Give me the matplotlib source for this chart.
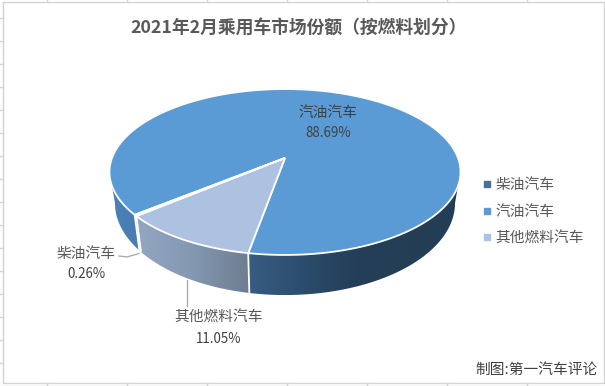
import numpy as np
import matplotlib
matplotlib.use("Agg")
import matplotlib.pyplot as plt
from matplotlib.colors import LinearSegmentedColormap
from matplotlib.lines import Line2D
from matplotlib.patches import Polygon

plt.rcParams['font.family'] = ['Noto Sans CJK SC', 'DejaVu Sans']

# data
categories = ["柴油汽车", "汽油汽车", "其他燃料汽车"]
shares = [0.26, 88.69, 11.05]
share_labels = ["0.26%", "88.69%", "11.05%"]
colors = ["#44729F", "#5B9BD5", "#ADC2E1"]
title = "2021年2月乘用车市场份额（按燃料划分）"
credit = "制图:第一汽车评论"

start_angle = 220.0
k = 0.1687
edge = 'white'


def project(theta, cy, a, b, cx=285.0):
    # circle seen in perspective, centre stays at (cx, cy)
    t = np.radians(theta)
    d = 1 + k * np.sin(t)
    return cx + a * np.cos(t) / d, cy - b * np.sin(t) / d


def top_pt(theta):
    return project(theta, 158.0, 173.0, 80.6)


def bottom_pt(theta):
    return project(theta, 187.5, 167.6, 89.4)


def wall(ax, t0, t1, stops):
    th = np.linspace(t0, t1, 150)
    xt, yt = top_pt(th)
    xb, yb = bottom_pt(th)
    xs = np.r_[xt, xb[::-1]]
    ys = np.r_[yt, yb[::-1]]
    poly = Polygon(np.c_[xs, ys], closed=True, fc='none', ec='none', transform=ax.transData)
    ax.add_patch(poly)
    cmap = LinearSegmentedColormap.from_list("w", stops)
    x0, x1 = xs.min(), xs.max()
    im = ax.imshow(np.linspace(0, 1, 256).reshape(1, -1), cmap=cmap, aspect='auto',
                   extent=(x0, x1, ys.max(), ys.min()), zorder=2, interpolation='bilinear')
    im.set_clip_path(poly)


def seam(ax, th):
    xt, yt = top_pt(th)
    xb, yb = bottom_pt(th)
    ax.plot([xt, xb], [yt, yb], color=edge, lw=1.3, zorder=3, solid_capstyle='butt')


fig = plt.figure(figsize=(6.05, 3.86), dpi=100)
ax = fig.add_axes([0, 0, 1, 1])

# angles run clockwise from the start angle
ends = start_angle - 3.6 * np.cumsum(shares)
starts = np.r_[start_angle, ends[:-1]]

left_limit = 180 + np.degrees(np.arcsin(k))
right_limit = 360 - np.degrees(np.arcsin(k))
a_diesel = starts[1]          # diesel / petrol boundary
a_other = starts[0]           # diesel / other boundary
a_front = starts[2] + 360     # other / petrol boundary, front of the pie

# side walls
wall(ax, left_limit, a_diesel, ["#4A80B5", "#4A7FB3", "#4A7DAE"])
wall(ax, a_diesel, a_other, ["#4778A8", "#4778A8"])
wall(ax, a_other, a_front, ["#93A7C2", "#8498B2", "#6E7D90"])
wall(ax, a_front, right_limit, ["#375D83", "#2C4D6E", "#243F57", "#233E55", "#233E55"])
for a in [a_diesel, a_other, a_front]:
    seam(ax, a)

# top faces
for i in [1, 2, 0]:
    th = np.linspace(starts[i], ends[i], 300)
    xs, ys = top_pt(th)
    ax.add_patch(Polygon(np.c_[np.r_[285.0, xs], np.r_[158.0, ys]], closed=True, fc=colors[i],
                         ec=edge, lw=1.3, joinstyle='miter', zorder=4))

# leader lines
ax.plot([119, 127, 139], [256, 257, 253.5], color="#A6A6A6", lw=0.9, zorder=5)
ax.plot([186.7, 186.7], [280, 306], color="#A6A6A6", lw=0.9, zorder=5)

# data labels
cat_c = "#595959"
ax.text(86, 254, categories[0], fontsize=10.6, color=cat_c, ha='center', va='center', zorder=6)
ax.text(86, 274, share_labels[0], fontsize=9.6, color="#404040", ha='center', va='center', zorder=6)
ax.text(328, 113, categories[1], fontsize=10.6, color="#404040", ha='center', va='center', zorder=6)
ax.text(328, 133, share_labels[1], fontsize=9.6, color="#404040", ha='center', va='center', zorder=6)
ax.text(219, 318, categories[2], fontsize=10.6, color=cat_c, ha='center', va='center', zorder=6)
ax.text(219, 339, share_labels[2], fontsize=9.6, color="#404040", ha='center', va='center', zorder=6)

ax.text(299, 29, title, fontsize=12.8, fontweight='bold', color="#595959", ha='center', va='center')
ax.text(598, 370, credit, fontsize=10.6, color="#404040", ha='right', va='center')

# legend
handles = [Line2D([], [], ls='none', marker='s', ms=4, color=c) for c in colors]
ax.legend(handles, categories, loc='upper left', bbox_to_anchor=(481, 178), bbox_transform=ax.transData,
          frameon=False, fontsize=10.6, labelcolor="#595959", labelspacing=0.86, borderpad=0,
          borderaxespad=0, handlelength=0.8, handletextpad=0.2)

# chart frame and the sheet grid around it
grid_c = "#D4D4D4"
ax.plot([2.5, 603.5, 603.5, 2.5, 2.5], [1.5, 1.5, 382.5, 382.5, 1.5], color=grid_c, lw=1, zorder=1)
ax.plot([0, 605], [385.5, 385.5], color="#E4E4E4", lw=1, zorder=1)
for x in np.arange(46.5, 605, 80):
    ax.plot([x, x], [0, 1.5], color=grid_c, lw=1, zorder=1)
    ax.plot([x, x], [382.5, 386], color=grid_c, lw=1, zorder=1)
for y in np.arange(17.5, 382, 23):
    ax.plot([0, 2.5], [y, y], color=grid_c, lw=1, zorder=1)
    ax.plot([603.5, 605], [y, y], color=grid_c, lw=1, zorder=1)

ax.set_xlim(0, 605)
ax.set_ylim(386, 0)
ax.axis('off')

fig.savefig("out.png", dpi=100)
